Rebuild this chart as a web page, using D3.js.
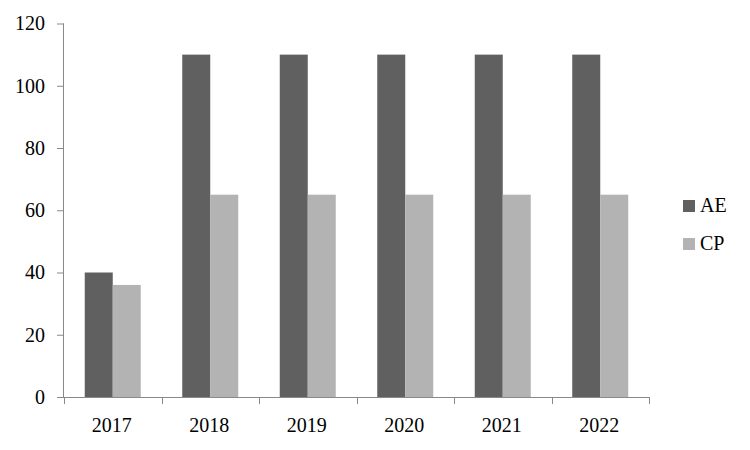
<!DOCTYPE html>
<html><head><meta charset="utf-8">
<script src="https://cdn.jsdelivr.net/npm/d3@7"></script>
<style>body{margin:0;background:#fff}svg{display:block}text{font-family:"Liberation Serif","Times New Roman",serif;fill:#000}</style>
</head><body>
<script>
const categories = ["2017","2018","2019","2020","2021","2022"];
const seriesNames = ["AE","CP"];
const aeValues = [40,110,110,110,110,110];
const cpValues = [36,65,65,65,65,65];
const yTicks = [0,20,40,60,80,100,120];
const colors = ["#606060","#b3b3b3"];

const W=750,H=450;
const svg=d3.select("body").append("svg").attr("width",W).attr("height",H);
const pLeft=64,pRight=649,pTop=23.5,pBottom=397;
const x=d3.scaleBand().domain(categories).range([pLeft,pRight]);
const xs=d3.scaleBand().domain(seriesNames).range([0,56]);
const y=d3.scaleLinear().domain([0,120]).range([pBottom,pTop]);
const data=categories.map((c,i)=>({cat:c,vals:[aeValues[i],cpValues[i]]}));

const g=svg.append("g");
data.forEach(d=>{
  seriesNames.forEach((s,j)=>{
    g.append("rect")
     .attr("x",x(d.cat)+x.bandwidth()/2-28+xs(s))
     .attr("width",xs.bandwidth())
     .attr("y",y(d.vals[j]))
     .attr("height",pBottom-y(d.vals[j]))
     .attr("fill",colors[j]);
  });
});

// y axis
const ya=svg.append("g").attr("transform",`translate(${pLeft},0)`)
  .call(d3.axisLeft(y).tickValues(yTicks).tickSize(7).tickPadding(12));
ya.selectAll("path,line").attr("stroke","#898989");
ya.select(".domain").attr("d",`M-0.5,${pTop}V${pBottom}`);
ya.selectAll("text").attr("font-size",20).attr("font-family","Liberation Serif").attr("fill","#000");

// x axis
const xa=svg.append("g").attr("transform",`translate(0,${pBottom})`);
xa.append("line").attr("x1",pLeft).attr("x2",pRight).attr("y1",0.5).attr("y2",0.5).attr("stroke","#898989");
const bounds=categories.map(c=>x(c)).concat([pRight]);
bounds.forEach(b=>xa.append("line").attr("x1",Math.round(b)+0.5).attr("x2",Math.round(b)+0.5).attr("y1",0).attr("y2",7).attr("stroke","#898989"));
categories.forEach(c=>xa.append("text").attr("x",x(c)+x.bandwidth()/2-1).attr("y",35).attr("text-anchor","middle").attr("font-size",20).text(c));

// legend
const lg=svg.append("g");
seriesNames.forEach((s,j)=>{
  lg.append("rect").attr("x",683).attr("y",200+j*38).attr("width",12).attr("height",12).attr("fill",colors[j]);
  lg.append("text").attr("x",700).attr("y",212+j*38).attr("font-size",20).text(s);
});
</script>
</body></html>
